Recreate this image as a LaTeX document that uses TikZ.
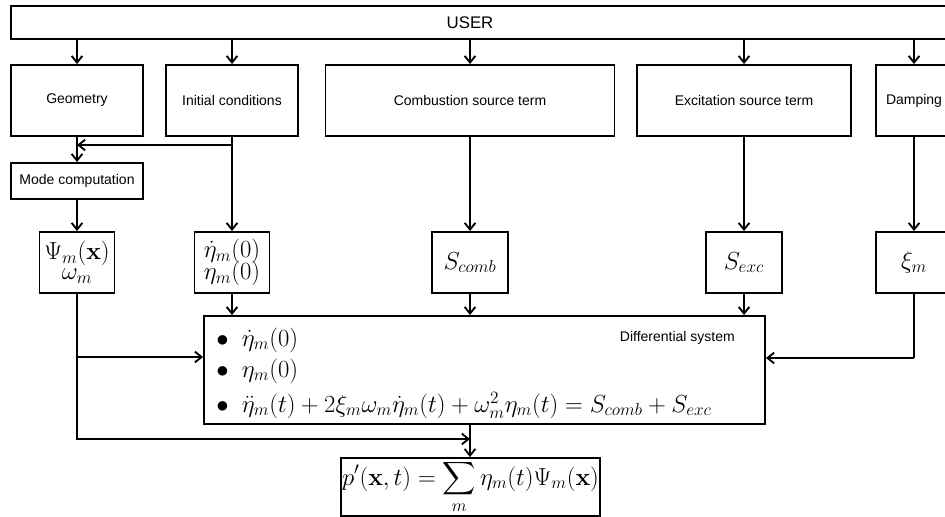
\RequirePackage{fix-cm}
\documentclass[tikz,border=0pt]{standalone}
\usepackage{exscale}
\usepackage[no-math]{fontspec}
\setmainfont{Liberation Sans}
\usetikzlibrary{arrows.meta}

\tikzset{
  blk/.style={draw, line width=1.4pt, inner sep=1pt, font=\fontsize{10.5}{12.5}\selectfont},
  mblk/.style={blk, align=center, font=\fontsize{18.5}{20}\selectfont},
  mtxt/.style={inner sep=0pt, font=\fontsize{18.5}{20}\selectfont},
  ln/.style={line width=1.4pt},
  arr/.style={ln, -{Straight Barb[length=5pt,width=8pt]}},
}

\begin{document}
\begin{tikzpicture}[x=0.75pt, y=-0.75pt]
  \useasboundingbox (0,0) rectangle (945,517);
  \clip (0,0) rectangle (945,517);

  % user and inputs
  \node[blk, minimum width=734pt, minimum height=24.75pt] (user) at (500.5,22.5) {};
  \node[font=\fontsize{12.6}{14}\selectfont] (usertxt) at (470,22.5) {USER};
  \node[blk, minimum width=99pt, minimum height=53.25pt] (geom) at (77,100.5) {Geometry};
  \node[blk, minimum width=99pt, minimum height=53.25pt] (init) at (232,100.5) {Initial conditions};
  \node[blk, minimum width=216.75pt, minimum height=53.25pt] (comb) at (470,100.5) {Combustion source term};
  \node[blk, minimum width=160.5pt, minimum height=53.25pt] (exc) at (744,100.5) {Excitation source term};
  \node[blk, minimum width=57pt, minimum height=53.25pt] (damp) at (914,100.5) {Damping};
  \node[blk, minimum width=99pt, minimum height=27pt] (mode) at (77,181) {Mode computation};

  % quantities
  \node[mblk, minimum width=56.25pt, minimum height=45.75pt] (psi) at (77,262.5) {$\Psi_m(\mathbf{x})$\\[-5pt]$\omega_m$};
  \node[mblk, minimum width=56.25pt, minimum height=45.75pt] (eta) at (232,262.5) {$\dot\eta_m(0)$\\[-3.5pt]$\eta_m(0)$};
  \node[mblk, minimum width=57pt, minimum height=45.75pt] (scomb) at (470,262.5) {$S_{comb}$};
  \node[mblk, minimum width=57pt, minimum height=45.75pt] (sexc) at (744,262.5) {$S_{exc}$};
  \node[mblk, minimum width=57pt, minimum height=45.75pt] (xi) at (914,262.5) {$\xi_m$};

  % differential system
  \node[blk, minimum width=420.75pt, minimum height=81pt] (diff) at (484.5,370) {};
  \node[blk, draw=none, inner sep=0pt, anchor=base west] (difflab) at (619,341) {Differential system};
  \node[mtxt, anchor=base west] (it1) at (216,346) {$\bullet\hspace{10pt}\dot\eta_m(0)$};
  \node[mtxt, anchor=base west] (it2) at (216,377) {$\bullet\hspace{10pt}\eta_m(0)$};
  \node[mtxt, anchor=base west] (it3) at (216,412) {$\bullet\hspace{10pt}\ddot\eta_m(t)+2\xi_m\omega_m\dot\eta_m(t)+\omega_m^2\eta_m(t)=S_{comb}+S_{exc}$};

  % result
  \node[mblk, minimum width=191.25pt, minimum height=43.5pt] (pp) at (470.5,487) {$\displaystyle p'(\mathbf{x},t)=\sum_m\eta_m(t)\Psi_m(\mathbf{x})$};

  % arrows from user
  \foreach \b in {geom,init,comb,exc,damp}
    \draw[arr] (user.south -| \b.north) -- (\b.north);

  \coordinate (brI) at (232,145);
  \coordinate (jL) at (77,357);
  \coordinate (jB) at (470,439);
  \coordinate (jR) at (914,358);

  \draw[arr] (geom.south) -- (mode.north);
  \draw[ln] (init.south) -- (brI);
  \draw[arr] (brI) -- (brI -| geom.south);
  \draw[arr] (brI) -- (eta.north);
  \draw[arr] (mode.south) -- (psi.north);
  \draw[arr] (comb.south) -- (scomb.north);
  \draw[arr] (exc.south) -- (sexc.north);
  \draw[arr] (damp.south) -- (xi.north);

  \draw[arr] (eta.south) -- (eta.south |- diff.north);
  \draw[arr] (scomb.south) -- (scomb.south |- diff.north);
  \draw[arr] (sexc.south) -- (sexc.south |- diff.north);
  \draw[ln] (xi.south) -- (jR);
  \draw[arr] (jR) -- (jR -| diff.east);

  \draw[ln] (psi.south) -- (jL);
  \draw[arr] (jL) -- (jL -| diff.west);
  \draw[arr] (jL) |- (jB);
  \draw[arr] (diff.south -| jB) -- (pp.north -| jB);
\end{tikzpicture}
\end{document}
